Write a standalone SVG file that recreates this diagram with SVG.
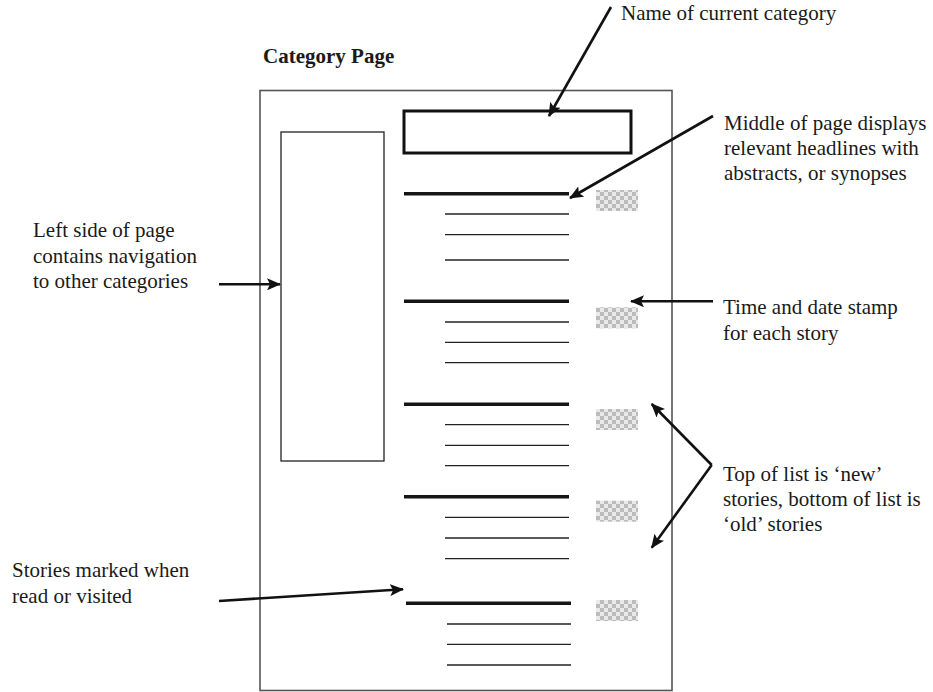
<svg xmlns="http://www.w3.org/2000/svg" width="933" height="692" viewBox="0 0 933 692">
  <defs>
    <pattern id="checks" x="0" y="0" width="8" height="8" patternUnits="userSpaceOnUse">
      <rect width="8" height="8" fill="#e9e9e9"/>
      <rect width="4" height="4" fill="#bcbcbc"/>
      <rect x="4" y="4" width="4" height="4" fill="#bcbcbc"/>
    </pattern>
    <marker id="head" markerWidth="14" markerHeight="12" refX="13" refY="6" orient="auto" markerUnits="userSpaceOnUse">
      <path d="M0,0 L14,6 L0,12 L3,6 Z" fill="#111"/>
    </marker>
  </defs>
  <style>
    text { font-family: "Liberation Serif", "Times New Roman", serif; font-size: 21px; fill: #1a1a1a; }
    .title { font-weight: bold; }
    .page { fill: #fff; stroke: #555; stroke-width: 1.6; }
    .nav { fill: none; stroke: #222; stroke-width: 1.3; }
    .catname { fill: none; stroke: #111; stroke-width: 3; }
    .headline { stroke: #151515; stroke-width: 3.6; }
    .sub { stroke: #222; stroke-width: 1.3; }
    .stamp { fill: url(#checks); }
    .arrow { stroke: #111; stroke-width: 2.6; fill: none; marker-end: url(#head); }
    .plain { stroke: #111; stroke-width: 2.6; fill: none; }
  </style>

  <text class="title" x="263" y="63">Category Page</text>

  <!-- page frame and blocks -->
  <g id="page">
    <rect class="page" x="260" y="90.5" width="412" height="600"/>
  </g>
  <g id="nav-panel">
    <rect class="nav" x="281" y="132" width="103" height="329"/>
  </g>
  <g id="category-name">
    <rect class="catname" x="404" y="111" width="227" height="42"/>
  </g>

  <!-- story entries: headline, three abstract lines, timestamp -->
  <g id="story-1">
    <line class="headline" x1="404" y1="193.7" x2="569" y2="193.7"/>
    <line class="sub" x1="445" y1="214" x2="569" y2="214"/>
    <line class="sub" x1="445" y1="234.7" x2="569" y2="234.7"/>
    <line class="sub" x1="445" y1="260" x2="569" y2="260"/>
    <rect class="stamp" x="596" y="190" width="42" height="21"/>
  </g>
  <g id="story-2">
    <line class="headline" x1="404" y1="301.3" x2="569" y2="301.3"/>
    <line class="sub" x1="445" y1="322" x2="569" y2="322"/>
    <line class="sub" x1="445" y1="342.3" x2="569" y2="342.3"/>
    <line class="sub" x1="445" y1="362.7" x2="569" y2="362.7"/>
    <rect class="stamp" x="596" y="307.3" width="42" height="21"/>
  </g>
  <g id="story-3">
    <line class="headline" x1="404" y1="404.3" x2="569" y2="404.3"/>
    <line class="sub" x1="445" y1="424.7" x2="569" y2="424.7"/>
    <line class="sub" x1="445" y1="445.3" x2="569" y2="445.3"/>
    <line class="sub" x1="445" y1="465.7" x2="569" y2="465.7"/>
    <rect class="stamp" x="596" y="409" width="42" height="21"/>
  </g>
  <g id="story-4">
    <line class="headline" x1="404" y1="496.7" x2="569" y2="496.7"/>
    <line class="sub" x1="445" y1="517.3" x2="569" y2="517.3"/>
    <line class="sub" x1="445" y1="538" x2="569" y2="538"/>
    <line class="sub" x1="445" y1="558.7" x2="569" y2="558.7"/>
    <rect class="stamp" x="596" y="500.7" width="42" height="21"/>
  </g>
  <g id="story-5">
    <line class="headline" x1="406" y1="603.3" x2="571" y2="603.3"/>
    <line class="sub" x1="447" y1="624" x2="571" y2="624"/>
    <line class="sub" x1="447" y1="644.3" x2="571" y2="644.3"/>
    <line class="sub" x1="447" y1="665" x2="571" y2="665"/>
    <rect class="stamp" x="596" y="600" width="42" height="21"/>
  </g>

  <!-- callout labels -->
  <g id="label-name">
    <text x="621" y="20">Name of current category</text>
  </g>
  <g id="label-middle">
    <text x="724" y="130">Middle of page displays</text>
    <text x="724" y="155">relevant headlines with</text>
    <text x="724" y="180">abstracts, or synopses</text>
  </g>
  <g id="label-stamp">
    <text x="723" y="314">Time and date stamp</text>
    <text x="723" y="340">for each story</text>
  </g>
  <g id="label-order">
    <text x="723" y="481">Top of list is ‘new’</text>
    <text x="723" y="506">stories, bottom of list is</text>
    <text x="723" y="531">‘old’ stories</text>
  </g>
  <g id="label-left">
    <text x="33" y="237">Left side of page</text>
    <text x="33" y="263">contains navigation</text>
    <text x="33" y="288">to other categories</text>
  </g>
  <g id="label-read">
    <text x="12" y="577">Stories marked when</text>
    <text x="12" y="603">read or visited</text>
  </g>

  <!-- callout arrows -->
  <g id="connectors">
    <line class="arrow" x1="611" y1="7" x2="549" y2="116"/>
    <line class="arrow" x1="713" y1="116" x2="570" y2="198"/>
    <line class="arrow" x1="713" y1="301.3" x2="631" y2="301.3"/>
    <line class="arrow" x1="711.7" y1="465" x2="651.7" y2="404"/>
    <line class="arrow" x1="711.7" y1="465" x2="651.7" y2="547.7"/>
    <line class="arrow" x1="219" y1="284.3" x2="280" y2="284.3"/>
    <line class="arrow" x1="219" y1="601" x2="403" y2="589.3"/>
  </g>
</svg>
